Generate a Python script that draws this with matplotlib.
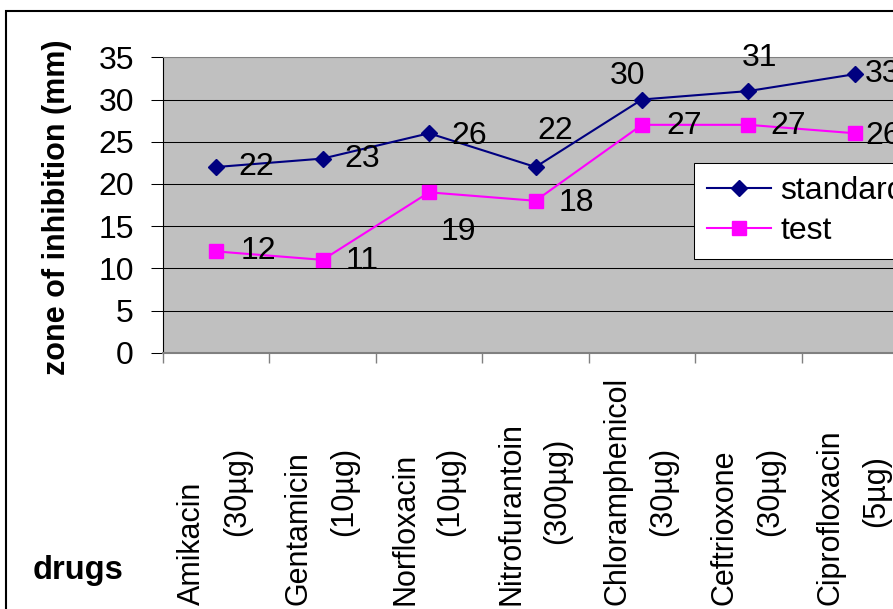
import matplotlib.pyplot as plt
from matplotlib.patches import Rectangle
from matplotlib.transforms import blended_transform_factory

plt.rcParams["font.family"] = ["Liberation Sans", "DejaVu Sans"]

# Data
drugs = ["Amikacin", "Gentamicin", "Norfloxacin", "Nitrofurantoin",
         "Chloramphenicol", "Ceftrioxone", "Ciprofloxacin"]
doses = ["(30µg)", "(10µg)", "(10µg)", "(300µg)", "(30µg)", "(30µg)", "(5µg)"]
standard = [22, 23, 26, 22, 30, 31, 33]
test = [12, 11, 19, 18, 27, 27, 26]

# label offsets in pixels (dx, dy), as placed on the original chart
std_offsets = [(40, 0), (40, 0), (40, -3), (20, 36), (-14, 23), (11, 33), (28, 0)]
test_offsets = [(42, 0), (40, -1), (29, -40), (41, -2), (42, -1), (40, -1), (28, -3)]

fig = plt.figure(figsize=(8.93, 6.09), dpi=100)
ax = fig.add_axes([163 / 893, 1 - 352.7 / 609, 745 / 893, 295.4 / 609])
ax.set_facecolor("#C0C0C0")

x = list(range(len(drugs)))
ax.plot(x, standard, color="#000080", lw=1.5, marker="D", ms=8,
        label="standard", zorder=3)
ax.plot(x, test, color="#FF00FF", lw=1.5, marker="s", ms=9.5,
        label="test", zorder=3)

# data labels
for xi, v, off in zip(x, standard, std_offsets):
    ax.annotate(str(v), (xi, v), xytext=off, textcoords="offset pixels",
                ha="center", va="center", fontsize=23, annotation_clip=False)
for xi, v, off in zip(x, test, test_offsets):
    ax.annotate(str(v), (xi, v), xytext=off, textcoords="offset pixels",
                ha="center", va="center", fontsize=23, annotation_clip=False)

ax.set_xlim(-0.5, len(drugs) - 0.5)
ax.set_ylim(0, 35)
ax.set_yticks(range(0, 36, 5))
ax.yaxis.grid(True, color="black", lw=0.75)
ax.set_axisbelow(True)
ax.tick_params(axis="y", labelsize=23, length=9, width=0.75, pad=12)

# category boundary ticks, labels drawn by hand below
ax.set_xticks([i - 0.5 for i in range(len(drugs) + 1)])
ax.set_xticklabels([])
ax.tick_params(axis="x", length=7, width=1, color="#808080")

for side in ["top", "bottom"]:
    ax.spines[side].set_color("#808080")
ax.spines["bottom"].set_linewidth(1.5)
ax.spines["top"].set_linewidth(0.75)
ax.spines["right"].set_visible(False)
ax.spines["left"].set_color("black")

trans = blended_transform_factory(ax.transData, fig.transFigure)
for i, (name, dose) in enumerate(zip(drugs, doses)):
    ax.text(i - 0.225, 1 - 605 / 609, name, rotation=90, ha="center",
            va="bottom", fontsize=22, transform=trans, clip_on=False)
    ax.text(i + 0.2, 1 - 491 / 609, dose, rotation=90, ha="center",
            va="center", fontsize=22, transform=trans, clip_on=False)

fig.text(57 / 893, 1 - 207 / 609, "zone of inhibition (mm)", rotation=90,
         ha="center", va="center", fontsize=22, fontweight="bold")
fig.text(33 / 893, 1 - 570 / 609, "drugs", ha="left", va="center",
         fontsize=23.5, fontweight="bold")

leg = ax.legend(loc="upper left", bbox_to_anchor=(694 / 893, 1 - 163 / 609),
                bbox_transform=fig.transFigure, fontsize=23, frameon=True,
                fancybox=False, framealpha=1, edgecolor="black",
                borderaxespad=0, borderpad=0.4, labelspacing=0.33,
                handlelength=2.0, handletextpad=0.3)
leg.get_frame().set_linewidth(0.75)

# outer chart border
fig.add_artist(Rectangle((6 / 893, -0.1), 2, 1.1 - 11 / 609, fill=False,
                         edgecolor="black", lw=1.5,
                         transform=fig.transFigure, clip_on=False))

plt.savefig("out.png", dpi=100)
